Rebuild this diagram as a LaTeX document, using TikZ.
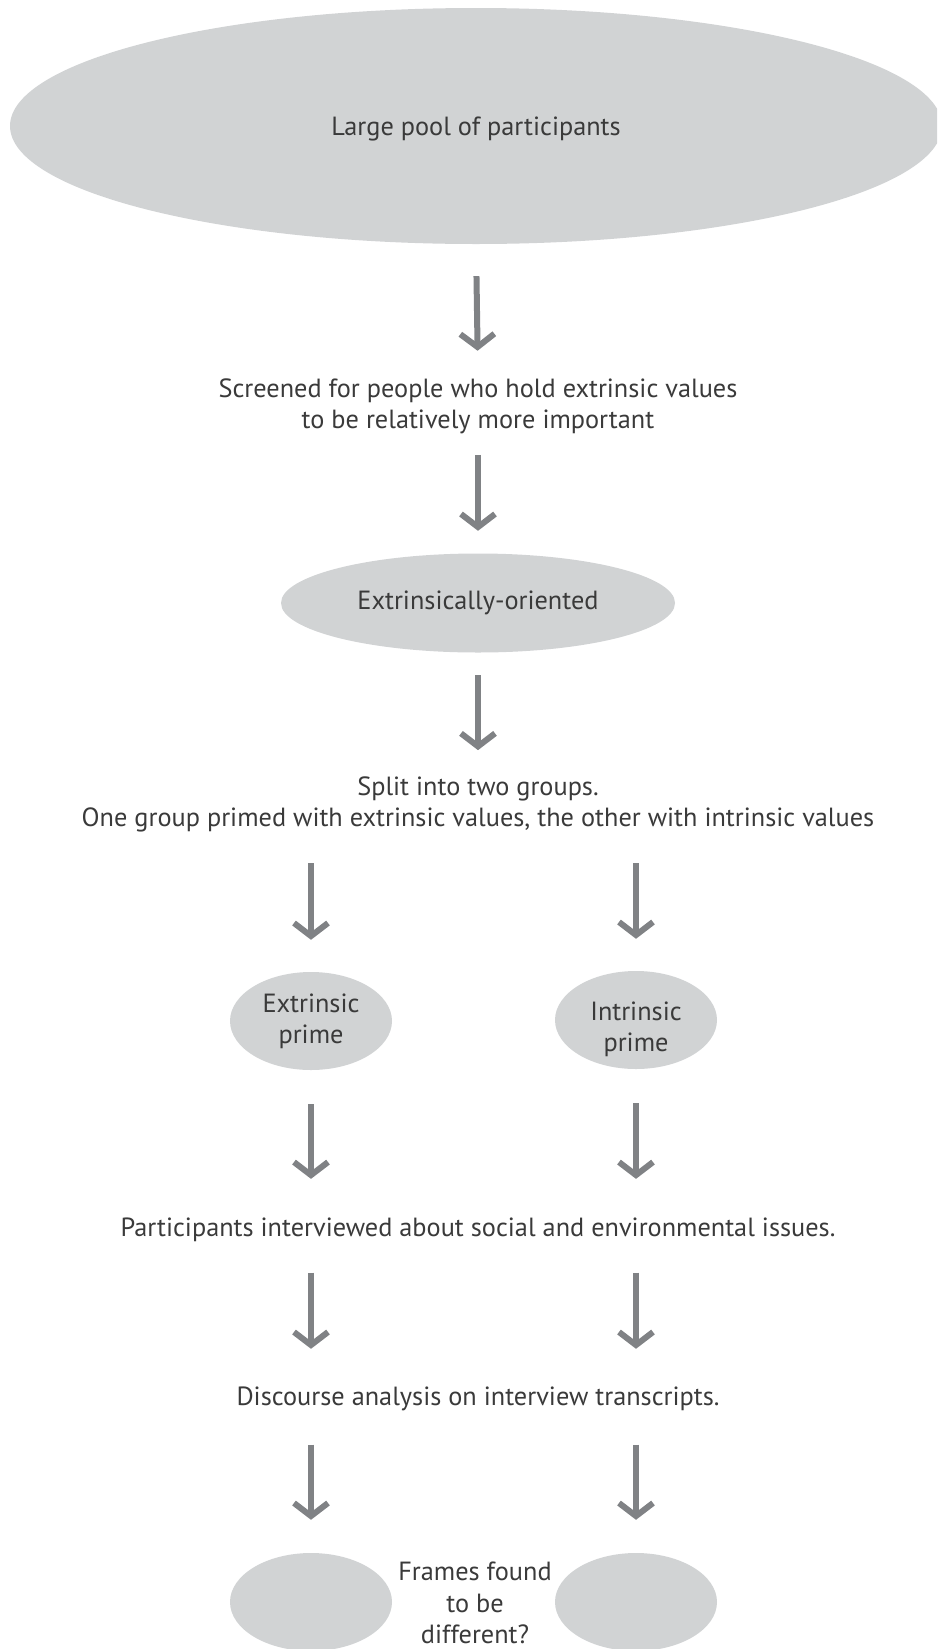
\documentclass[tikz,border=0pt]{standalone}
\usepackage{fontspec}
\setmainfont{PT Sans}
\usepackage{xcolor}
\usetikzlibrary{arrows.meta,shapes.geometric}
\definecolor{blobgray}{RGB}{209,211,212}
\definecolor{arrowgray}{RGB}{128,130,133}
\definecolor{txtgray}{RGB}{58,58,58}
\newcommand{\flowfont}{\fontsize{26.3}{31}\selectfont}

\begin{document}
\begin{tikzpicture}[x=1pt,y=-1pt,
  blob/.style={ellipse,fill=blobgray,inner sep=0pt,align=center,text=txtgray,font=\flowfont},
  lbl/.style={inner sep=0pt,align=center,text=txtgray,font=\flowfont},
  flow/.style={draw=arrowgray,line width=6pt,-{Straight Barb[length=13pt,width=34pt]}}]
  \useasboundingbox (0,0) rectangle (937,1649);
  \clip (0,0) rectangle (937,1649);
  % pool and screening
  \node[blob,minimum width=932pt,minimum height=236pt,text depth=0pt] (pool) at (476,126) {Large pool of participants};
  \node[lbl] (screen) at (478,406) {Screened for people who hold extrinsic values\\to be relatively more important};
  \node[blob,minimum width=394pt,minimum height=99pt] (ext) at (478,603) {Extrinsically-oriented};
  \node[lbl] (split) at (478,804) {Split into two groups.\\One group primed with extrinsic values, the other with intrinsic values};
  % the two primes
  \node[blob,minimum width=162pt,minimum height=98pt] (lp) at (311,1021) {Extrinsic\\prime};
  \node[blob,minimum width=162pt,minimum height=98pt] (rp) at (636,1020) {};
  \node[lbl] (rptext) at (636,1029) {Intrinsic\\prime};
  \node[lbl] (part) at (478,1230) {Participants interviewed about social and environmental issues.};
  \node[lbl] (disc) at (478,1399) {Discourse analysis on interview transcripts.};
  % outcome
  \node[blob,minimum width=162pt,minimum height=98pt] (lb) at (311,1602) {};
  \node[blob,minimum width=162pt,minimum height=98pt] (rb) at (636,1602) {};
  \node[lbl,font=\fontsize{26.3}{31.5}\selectfont,text depth=0pt] (frames) at (475,1603) {Frames found\\to be\\different?};
  % arrows
  \draw[flow,shorten <=32pt,shorten >=27.5pt] (pool.south) -- (screen.north);
  \draw[flow,shorten <=21pt,shorten >=22.5pt] (screen.south) -- (ext.north);
  \draw[flow,shorten <=22.5pt,shorten >=26pt] (ext.south) -- (split.north);
  \foreach \col in {lp,rp} {
    \draw[flow,shorten <=31.5pt,shorten >=32pt] (split.south -| \col) -- (\col.north);
    \draw[flow,shorten <=34pt,shorten >=39pt] (\col.south) -- (part.north -| \col);
    \draw[flow,shorten <=30.5pt,shorten >=38pt] (part.south -| \col) -- (disc.north -| \col);
  }
  \draw[flow,shorten <=33.5pt,shorten >=33pt] (disc.south -| lb) -- (lb.north);
  \draw[flow,shorten <=33.5pt,shorten >=33pt] (disc.south -| rb) -- (rb.north);
\end{tikzpicture}
\end{document}
